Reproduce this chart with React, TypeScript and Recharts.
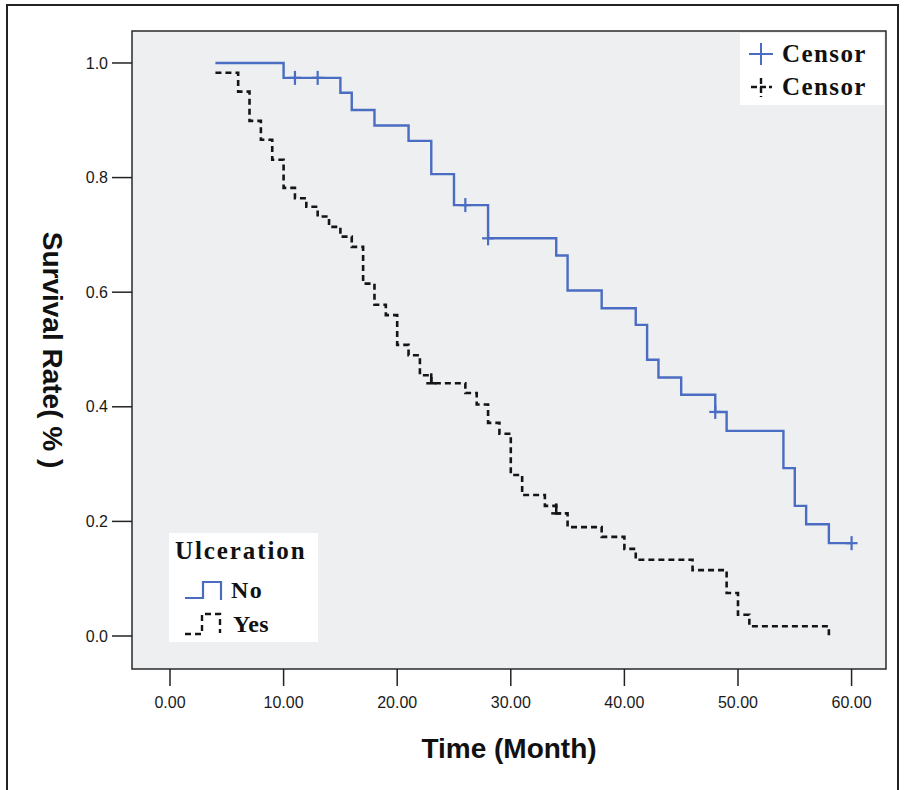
import React from 'react';
import { ComposedChart, Line, Scatter, XAxis, YAxis, ReferenceArea } from 'recharts';

// ---- data ----
const noTimes = [4, 10, 15, 16, 18, 21, 23, 25, 28, 34, 35, 38, 41, 42, 43, 45, 48, 49, 54, 55, 56, 58, 60];
const noSurv = [1.0, 0.974, 0.948, 0.918, 0.891, 0.864, 0.806, 0.752, 0.694, 0.664, 0.603, 0.572, 0.543, 0.482, 0.451, 0.421, 0.391, 0.358, 0.293, 0.227, 0.195, 0.162, 0.162];
const yesTimes = [4, 6, 7, 8, 9, 10, 11, 12, 13, 14, 15, 16, 17, 18, 19, 20, 21, 22, 23, 26, 27, 28, 29, 30, 31, 33, 34, 35, 38, 40, 41, 46, 49, 50, 51, 58];
const yesSurv = [0.983, 0.95, 0.899, 0.866, 0.831, 0.782, 0.764, 0.749, 0.732, 0.714, 0.697, 0.679, 0.615, 0.578, 0.56, 0.508, 0.49, 0.455, 0.441, 0.424, 0.404, 0.372, 0.353, 0.281, 0.246, 0.227, 0.214, 0.19, 0.173, 0.152, 0.133, 0.115, 0.075, 0.037, 0.017, 0.0];
const noCensorTimes = [11, 13, 26, 28, 48, 60];
const noCensorSurv = [0.974, 0.974, 0.752, 0.694, 0.391, 0.162];
const yesCensorTimes = [23, 34];
const yesCensorSurv = [0.441, 0.214];
const xTicks = [0, 10, 20, 30, 40, 50, 60];
const yTicks = [0, 0.2, 0.4, 0.6, 0.8, 1.0];
const xTitle = 'Time (Month)';
const yTitle = 'Survival Rate( % )';
const legendTitle = 'Ulceration';
const groupNames = ['No', 'Yes'];
const censorLabel = 'Censor';

const toRows = (ts: number[], ss: number[]) => ts.map((t, i) => ({ t, s: ss[i] }));
const noData = toRows(noTimes, noSurv);
const yesData = toRows(yesTimes, yesSurv);
const noCensor = toRows(noCensorTimes, noCensorSurv);
const yesCensor = toRows(yesCensorTimes, yesCensorSurv);

const X_DOMAIN: [number, number] = [-3.345, 63.03];
const Y_DOMAIN: [number, number] = [-0.0576, 1.0558];
const BLUE = '#4a6cc2';
const BLACK = '#151515';
const SERIF = '"Liberation Serif", "Times New Roman", serif';
const SANS = '"Liberation Sans", Arial, sans-serif';

const BluePlus = (p: any) => {
  const { cx, cy } = p;
  if (cx == null || cy == null) return <g />;
  return (
    <g>
      <line x1={cx - 6} x2={cx + 6} y1={cy} y2={cy} stroke={BLUE} strokeWidth={2.2} />
      <line x1={cx} x2={cx} y1={cy - 7} y2={cy + 7} stroke={BLUE} strokeWidth={2.2} />
    </g>
  );
};

const BlackCensor = (p: any) => {
  const { cx, cy } = p;
  if (cx == null || cy == null) return <g />;
  return (
    <g>
      <line x1={cx - 5} x2={cx + 5} y1={cy} y2={cy} stroke={BLACK} strokeWidth={2.5} />
      <line x1={cx} x2={cx} y1={cy - 10} y2={cy} stroke={BLACK} strokeWidth={2.5} />
    </g>
  );
};

const YLabel = (props: any) => {
  const vb = props.viewBox || {};
  const x = (vb.x ?? 72) - 20;
  const y = (vb.y ?? 0) + (vb.height ?? 0) / 2;
  return (
    <text
      x={x}
      y={y}
      transform={`rotate(90 ${x} ${y})`}
      textAnchor="middle"
      dominantBaseline="central"
      fontFamily={SANS}
      fontSize={28}
      fontWeight="bold"
      fill="#111"
    >
      {yTitle}
    </text>
  );
};

const XLabel = (props: any) => {
  const vb = props.viewBox || {};
  const x = (vb.x ?? 0) + (vb.width ?? 0) / 2;
  const y = (vb.y ?? 0) + 89;
  return (
    <text x={x} y={y} textAnchor="middle" fontFamily={SANS} fontSize={28} fontWeight="bold" fill="#111">
      {xTitle}
    </text>
  );
};

export default function App() {
  return (
    <div style={{ position: 'absolute', left: 0, top: 0, width: 907, height: 790, background: '#fff', overflow: 'hidden' }}>
      <div
        style={{
          position: 'absolute',
          left: 6,
          top: 4,
          width: 893,
          height: 820,
          border: '2px solid #222',
          boxSizing: 'border-box',
        }}
      />
      <div style={{ position: 'absolute', left: 0, top: 0 }}>
        <ComposedChart width={907} height={790} margin={{ top: 31, right: 21, bottom: 61, left: 72 }}>
          <XAxis
            type="number"
            dataKey="t"
            domain={X_DOMAIN}
            allowDataOverflow
            ticks={xTicks}
            tickFormatter={(v: number) => v.toFixed(2)}
            axisLine={false}
            tickLine={{ stroke: '#222', strokeWidth: 1.5 }}
            tickSize={17}
            tickMargin={11}
            height={60}
            tick={{ fontFamily: SANS, fontSize: 16, fill: '#1a1a1a' }}
            label={<XLabel />}
          />
          <YAxis
            type="number"
            domain={Y_DOMAIN}
            allowDataOverflow
            ticks={yTicks}
            tickFormatter={(v: number) => v.toFixed(1)}
            axisLine={false}
            tickLine={{ stroke: '#222', strokeWidth: 1.5 }}
            tickSize={20}
            tickMargin={4}
            width={60}
            tick={{ fontFamily: SANS, fontSize: 16, fill: '#1a1a1a' }}
            label={<YLabel />}
          />
          <ReferenceArea
            x1={X_DOMAIN[0]}
            x2={X_DOMAIN[1]}
            y1={Y_DOMAIN[0]}
            y2={Y_DOMAIN[1]}
            fill="#eeeff0"
            fillOpacity={1}
            stroke="#2a2a2a"
            strokeWidth={1.5}
            ifOverflow="visible"
          />
          <Line
            data={yesData}
            dataKey="s"
            type="stepAfter"
            stroke={BLACK}
            strokeWidth={2.6}
            strokeDasharray="6 4"
            dot={false}
            activeDot={false}
            isAnimationActive={false}
          />
          <Line
            data={noData}
            dataKey="s"
            type="stepAfter"
            stroke={BLUE}
            strokeWidth={2.4}
            dot={false}
            activeDot={false}
            isAnimationActive={false}
          />
          <Scatter data={noCensor} dataKey="s" shape={<BluePlus />} isAnimationActive={false} />
          <Scatter data={yesCensor} dataKey="s" shape={<BlackCensor />} isAnimationActive={false} />
        </ComposedChart>
      </div>

      {/* Censor legend (top right) */}
      <div
        style={{
          position: 'absolute',
          left: 740,
          top: 33,
          width: 144,
          height: 72,
          background: '#fff',
          fontFamily: SERIF,
          fontWeight: 'bold',
          fontSize: 25,
          letterSpacing: 1.4,
          color: '#111',
        }}
      >
        <div style={{ position: 'absolute', left: 6, top: 6, height: 30, display: 'flex', alignItems: 'center' }}>
          <svg width={30} height={30} style={{ display: 'block' }}>
            <line x1={3} x2={27} y1={15} y2={15} stroke={BLUE} strokeWidth={2} />
            <line x1={15} x2={15} y1={4} y2={26} stroke={BLUE} strokeWidth={2} />
          </svg>
          <span style={{ marginLeft: 6, lineHeight: '30px' }}>{censorLabel}</span>
        </div>
        <div style={{ position: 'absolute', left: 6, top: 39, height: 30, display: 'flex', alignItems: 'center' }}>
          <svg width={30} height={30} style={{ display: 'block' }}>
            <line x1={5} x2={26} y1={15} y2={15} stroke={BLACK} strokeWidth={2.4} strokeDasharray="6 3" />
            <line x1={15} x2={15} y1={6} y2={25} stroke={BLACK} strokeWidth={2.4} strokeDasharray="6 3" />
          </svg>
          <span style={{ marginLeft: 6, lineHeight: '30px' }}>{censorLabel}</span>
        </div>
      </div>

      {/* Ulceration legend (bottom left) */}
      <div
        style={{
          position: 'absolute',
          left: 169,
          top: 533,
          width: 149,
          height: 109,
          background: '#fff',
          fontFamily: SERIF,
          fontWeight: 'bold',
          color: '#111',
        }}
      >
        <div style={{ position: 'absolute', left: 6, top: 2, fontSize: 25, letterSpacing: 1.9, lineHeight: '32px' }}>
          {legendTitle}
        </div>
        <div style={{ position: 'absolute', left: 14, top: 44, display: 'flex', alignItems: 'center', fontSize: 24, letterSpacing: 1.5 }}>
          <svg width={42} height={24} style={{ display: 'block' }}>
            <polyline points="2,20 20,20 20,4 38,4 38,22" fill="none" stroke={BLUE} strokeWidth={2.2} />
          </svg>
          <span style={{ marginLeft: 6, lineHeight: '26px' }}>{groupNames[0]}</span>
        </div>
        <div style={{ position: 'absolute', left: 14, top: 78, display: 'flex', alignItems: 'center', fontSize: 24, letterSpacing: 0.5 }}>
          <svg width={42} height={26} style={{ display: 'block' }}>
            <polyline points="2,23 19,23 19,3 37,3 37,22" fill="none" stroke={BLACK} strokeWidth={2.4} strokeDasharray="6 4" />
          </svg>
          <span style={{ marginLeft: 8, lineHeight: '26px' }}>{groupNames[1]}</span>
        </div>
      </div>
    </div>
  );
}
